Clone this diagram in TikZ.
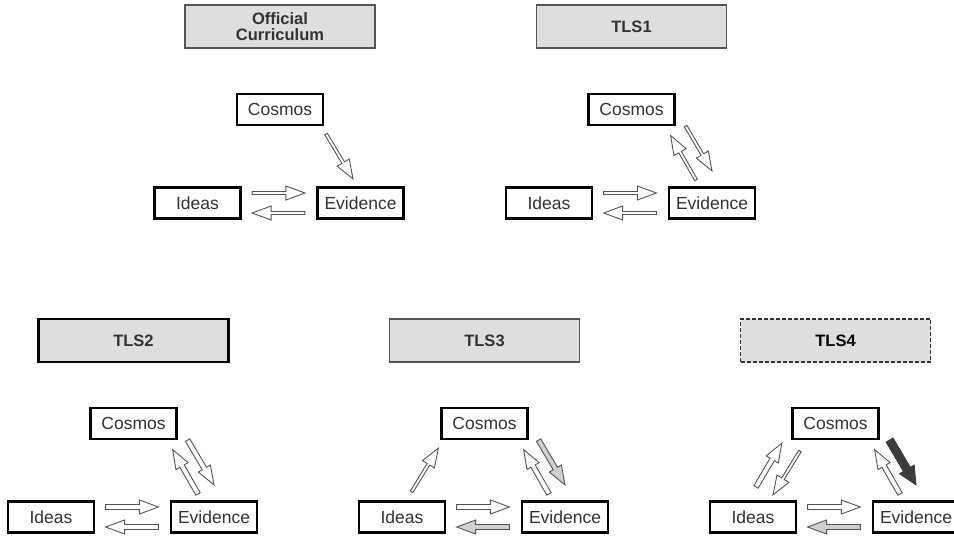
\documentclass[tikz,border=0pt]{standalone}
\usepackage{fontspec}
\setmainfont{Liberation Sans}
\usetikzlibrary{calc}

\definecolor{boxgray}{HTML}{DEDEDE}
\definecolor{textgray}{HTML}{333333}
\definecolor{linegray}{HTML}{555555}
\definecolor{flowgray}{HTML}{D0D0D0}
\definecolor{flowdark}{HTML}{3C3C3C}

\tikzset{
  title/.style={draw=linegray, line width=1.2pt, fill=boxgray, minimum width=190pt,
    minimum height=43pt, inner sep=0pt, align=center, text=textgray,
    font=\bfseries\fontsize{16.5}{16}\selectfont},
  term/.style={draw=black, line width=2.2pt, fill=white, minimum width=86pt,
    minimum height=31pt, inner sep=0pt, text=textgray,
    font=\fontsize{17.5}{20}\selectfont},
  flow/.style={draw=linegray, line width=0.9pt, fill=white, line join=miter},
}

% hollow block arrow: \flow[style]{half shaft}{tail}{tip}
\def\headw{7pt}
\def\headl{19pt}
\newcommand\flow[4][]{%
  \coordinate (fa) at #3;
  \coordinate (fb) at #4;
  \coordinate (fh) at ($(fb)!\headl!(fa)$);
  \draw[flow, #1] ($(fa)!#2!90:(fb)$) -- ($(fh)!#2!90:(fb)$) -- ($(fh)!\headw!90:(fb)$)
    -- (fb) -- ($(fh)!\headw!-90:(fb)$) -- ($(fh)!#2!-90:(fb)$) -- ($(fa)!#2!-90:(fb)$) -- cycle;
}

\begin{document}
\begin{tikzpicture}[x=1pt, y=-1pt]
  \useasboundingbox (0,0) rectangle (954,538);
  % Titles
  \node[title] (at) at (280, 26.5) {Official\\Curriculum};
  \node[title] (bt) at (631.5, 26.5) {TLS1};
  \node[title, draw=black, line width=2.2pt] (ct) at (133.5, 340.5) {TLS2};
  \node[title] (dt) at (484.5, 340.5) {TLS3};
  \node[title, draw=textgray, dash pattern=on 4pt off 2pt, text=black] (et) at (835.5, 340.5) {TLS4};
  % Cosmos, ideas and evidence under each title
  \foreach \p in {a, b, c, d, e}{
    \node[term] (\p c) at ($(\p t)+(0, 83)$) {Cosmos};
    \node[term] (\p i) at ($(\p t)+(-82.5, 176.5)$) {Ideas};
    \node[term] (\p e) at ($(\p t)+(80.5, 176.5)$) {Evidence};
  }
  % Ideas <-> evidence
  \foreach \p in {a, b}{
    \flow{1.5pt}{($(\p i.east)+(10.5,-10)$)}{($(\p e.west)+(-11.5,-10)$)}
    \flow{1.5pt}{($(\p e.west)+(-11.5,10)$)}{($(\p i.east)+(10.5,10)$)}
  }
  \flow{2.5pt}{($(ci.east)+(10.5,-10)$)}{($(ce.west)+(-11.5,-10)$)}
  \flow{2.5pt}{($(ce.west)+(-11.5,10)$)}{($(ci.east)+(10.5,10)$)}
  \foreach \p in {d, e}{
    \flow{2.5pt}{($(\p i.east)+(10.5,-10)$)}{($(\p e.west)+(-11.5,-10)$)}
    \flow[fill=flowgray]{2.5pt}{($(\p e.west)+(-11.5,10)$)}{($(\p i.east)+(10.5,10)$)}
  }
  % Cosmos -> evidence only
  \flow{1.5pt}{($(ac.south east)+(2,8)$)}{($(ae.north)+(-7.5,-7.5)$)}
  % Cosmos <-> evidence
  \flow{1.5pt}{($(bc.south east)+(10,0)$)}{($(be.north)+(0,-15.5)$)}
  \flow{1.5pt}{($(be.north)+(-16,-6.5)$)}{($(bc.south east)+(-5,9.5)$)}
  \flow{2.5pt}{($(cc.south east)+(10,0)$)}{($(ce.north)+(0,-15.5)$)}
  \flow{2.5pt}{($(ce.north)+(-16,-6.5)$)}{($(cc.south east)+(-5,9.5)$)}
  \flow[fill=flowgray]{2.5pt}{($(dc.south east)+(10,0)$)}{($(de.north)+(0,-15.5)$)}
  \flow{2.5pt}{($(de.north)+(-16,-6.5)$)}{($(dc.south east)+(-5,9.5)$)}
  {\def\headw{8.5pt}\def\headl{18pt}
  \flow[fill=flowdark, draw=flowdark]{4pt}{($(ec.south east)+(10,0)$)}{($(ee.north)+(0,-15.5)$)}}
  \flow{2.5pt}{($(ee.north)+(-16,-6.5)$)}{($(ec.south east)+(-5,9.5)$)}
  % Ideas <-> cosmos
  \flow{1.5pt}{($(di.north)+(9.5,-8.5)$)}{($(dc.south west)+(-2,8)$)}
  \flow{2.5pt}{($(ei.north)+(3,-13.5)$)}{($(ec.south west)+(-9.5,3)$)}
  \flow{1.5pt}{($(ec.south west)+(8.5,11)$)}{($(ei.north)+(20,-5.5)$)}
\end{tikzpicture}
\end{document}
